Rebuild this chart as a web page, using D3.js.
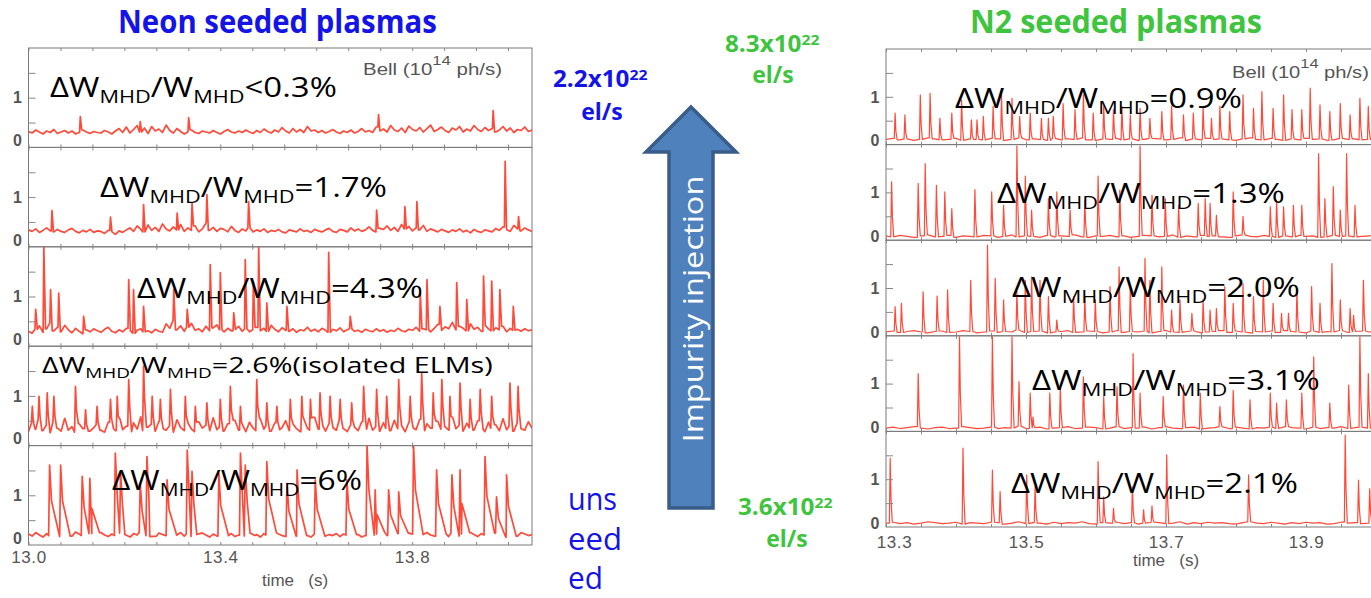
<!DOCTYPE html>
<html>
<head>
<meta charset="utf-8">
<script src="https://cdn.jsdelivr.net/npm/d3@7"></script>
<style>
  body { margin: 0; background: #fff; }
  svg { display: block; }
</style>
</head>
<body>
<svg></svg>
<script>
// ---------- data ----------
const neonRange = [13.0, 14.05], n2Range = [13.3, 14.0]
const neonTicks = [13.0, 13.4, 13.8], n2Ticks = [13.3, 13.5, 13.7, 13.9]
const neonDW = ["<0.3%", "=1.7%", "=4.3%", "=2.6%(isolated ELMs)", "=6%"]
const n2DW = ["=0.9%", "=1.3%", "=2.0%", "=3.1%", "=2.1%"]
const neonRate = ["2.2x10", "22", "el/s"], n2RateHigh = ["8.3x10", "22", "el/s"], n2RateLow = ["3.6x10", "22", "el/s"]
const unseeded = ["uns", "eed", "ed"]

// baseline signal, hundredths of 10^14 ph/s, evenly spaced over the time range
const neonNoise1 = [32,29,35,31,27,33,30,36,28,31,34,29,33,27,30,35,31,28,32,30,29,34,31,27,33,38,30,41,29,36,44,31,39,28,42,33,37,30,45,34,29,38,32,27,31,35,30,28,33,31,29,34,30,27,32,36,31,29,33,30,35,31,28,34,30,37,32,29,35,31,40,33,29,38,31,36,30,42,33,35,30,34,29,32,36,31,28,33,30,35,29,32,38,31,34,30,41,33,37,31,44,35,32,39,30,43,36,33,40,31,38,45,32,36,41,34,30,39,35,42,31,37,33,44,36,32,40,34,38,31,35,42,33,39,30,36,34,41,32,35]
const neonNoise2 = [34,31,36,29,33,38,32,30,35,31,29,34,37,31,28,33,30,35,29,32,31,27,33,30,25,32,29,34,38,31,42,35,30,44,33,39,31,46,36,32,40,34,45,31,38,33,42,30,36,48,33,39,31,37,35,30,41,33,29,36,32,38,30,34,31,36,29,33,31,35,30,28,34,32,30,36,31,33,29,35,32,30,34,37,31,29,35,33,30,38,32,36,31,34,40,33,30,37,35,42,33,39,31,45,36,41,32,38,34,43,31,36,33,30,35,32,29,34,31,36,30,33,28,35,31,29,34,32,30,37,33,40,35,31,43,36,32,38,34,31]
const neonNoise3 = [30,26,34,41,28,35,47,31,38,29,42,33,27,36,30,25,33,29,35,31,28,34,38,30,27,33,29,36,31,26,32,35,29,31,27,34,30,28,45,36,52,33,41,30,38,46,32,35,29,40,31,37,43,33,29,36,31,34,40,30,35,29,33,38,31,36,30,42,34,29,37,32,30,35,28,33,31,38,30,34,29,36,32,28,34,31,37,29,33,35,30,32,28,34,31,29,35,30,33,28,32,30,36,31,29,34,32,38,30,35,33,29,36,44,32,39,35,48,33,40,36,31,45,34,38,30,42,35,31,37,33,40,29,36,32,34,30,35,31,33]
const neonNoise4 = [28,45,33,52,30,41,26,48,35,29,55,31,38,27,44,34,50,29,36,42,31,27,47,35,30,53,32,39,28,46,33,58,30,37,43,29,49,34,31,40,27,52,36,30,45,33,28,48,35,41,30,56,32,37,29,44,34,51,31,38,28,47,35,30,54,33,40,29,46,32,36,50,30,43,34,28,49,35,31,57,33,39,29,45,36,31,52,34,28,42,37,30,48,33,55,31,38,29,46,35,30,51,34,40,28,47,36,32,53,30,44,35,29,49,33,38,31,56,34,41,29,45,36,31,50,33,28,47,35,42,30,54,32,39,29,46,34,31,48,35]
const neonNoise5 = [22,18,25,20,16,23,19,27,21,17,24,20,18,26,22,19,15,23,21,18,25,20,17,22,19,24,18,21,16,23,20,26,19,17,22,18,24,21,19,16,23,20,25,18,22,17,21,19,24,20,16,22,18,25,21,19,23,17,20,22,18,24,19,21,16,23,20,18,25,22,19,17,21,24,18,20,23,19,16,22,20,25,18,21,19,23,17,22,20,18,24,21,16,19,23,20,22,18,25,19,21,17,23,20,18,24,22,19,16,21,25,20,18,23,19,22,17,24,20,18,22,19,25,21,17,23,20,18,22,24,19,21,16,23,20,18,25,22,19,21]

const n2Noise1 = [11,13,10,12,9,11,14,12,10,11,13,9,12,11,10,13,12,9,11,14,10,12,11,9,13,10,12,11,14,10,9,12,11,13,10,12,9,11,13,12,10,11,14,9,12,10,13,11,12,10,9,12,14,11,10,13,11,9,12,10,13,11,12,9,10,13,11,12,10,11,12]
const n2Noise2 = [9,7,10,8,6,9,11,7,8,10,6,9,8,7,10,9,6,8,11,7,9,8,6,10,7,9,8,11,7,6,9,8,10,7,9,6,8,10,9,7,8,11,6,9,7,10,8,9,7,6,9,11,8,7,10,8,6,9,7,10,8,9,6,7,10,8,9,7,8,9,10]
const n2Noise3 = [8,10,7,9,11,8,6,9,10,7,8,11,9,6,8,10,7,9,8,12,7,9,10,6,8,9,11,7,8,10,9,6,8,11,7,9,8,10,6,9,11,8,7,9,10,6,8,9,11,7,10,8,6,9,8,10,7,11,9,8,6,10,7,9,8,11,7,9,10,8,9]
const n2Noise4 = [7,9,6,8,10,7,5,8,9,6,7,10,8,6,7,9,6,8,7,11,6,8,9,5,7,8,10,6,7,9,8,5,7,10,6,8,7,9,5,8,10,7,6,8,9,5,7,8,10,6,9,7,5,8,7,9,6,10,8,7,5,9,6,8,7,10,6,8,9,7,8]
const n2Noise5 = [8,10,7,9,6,8,11,9,7,8,10,6,9,8,7,10,9,6,8,11,7,9,8,6,10,7,9,8,11,7,6,9,8,10,7,9,6,8,10,9,7,8,11,6,9,7,10,8,9,7,6,9,11,8,7,10,8,6,9,7,10,8,9,6,7,10,8,9,7,8,9]

// ELM peaks: [time (s), height (10^14 ph/s)]
const neonPeaks1 = [[13.108,.62],[13.233,.52],[13.334,.6],[13.730,.66],[13.969,.74]]
const neonPeaks2 = [[13.049,.73],[13.171,.6],[13.240,.85],[13.310,.68],[13.341,.88],[13.372,1.05],[13.459,.91],[13.726,.74],[13.785,.81],[13.810,.91],[13.994,1.72],[14.022,.61]]
const neonPeaks3 = [[13.015,.74],[13.032,2.0],[13.046,1.14],[13.063,1.07],[13.115,.6],[13.209,1.34],[13.219,1.14],[13.240,.8],[13.303,1.14],[13.331,.74],[13.379,1.64],[13.400,1.48],[13.428,.67],[13.452,1.74],[13.469,1.28],[13.480,2.0],[13.497,.87],[13.539,.8],[13.626,1.89],[13.671,.6],[13.817,1.07],[13.831,1.34],[13.858,.8],[13.893,1.28],[13.914,.94],[13.949,1.41],[13.966,1.31],[13.983,1.14],[14.011,.8]]
const neonPeaks4 = [[13.008,.79],[13.022,.99],[13.039,1.06],[13.053,.99],[13.098,1.19],[13.119,.72],[13.143,.79],[13.171,.93],[13.185,.99],[13.209,1.33],[13.240,1.6],[13.258,.99],[13.275,.93],[13.296,1.13],[13.327,.99],[13.348,.79],[13.372,.86],[13.400,.93],[13.421,1.19],[13.442,.79],[13.476,1.33],[13.497,.86],[13.518,.79],[13.546,.93],[13.570,.99],[13.588,.93],[13.608,1.06],[13.629,.99],[13.650,.93],[13.674,.86],[13.699,1.19],[13.726,1.13],[13.747,.99],[13.772,1.33],[13.796,.99],[13.820,1.46],[13.844,1.06],[13.862,1.33],[13.879,.99],[13.900,1.26],[13.921,.93],[13.942,1.13],[13.966,.99],[14.004,1.26],[14.021,1.19]]
const neonPeaks5 = [[13.044,1.61],[13.067,1.61],[13.112,1.38],[13.128,1.34],[13.181,1.85],[13.192,1.48],[13.233,1.24],[13.247,1.78],[13.289,1.31],[13.331,1.91],[13.341,1.48],[13.397,1.44],[13.442,1.85],[13.452,1.61],[13.497,1.68],[13.539,1.24],[13.560,1.51],[13.598,1.31],[13.664,1.31],[13.706,2.0],[13.723,1.11],[13.751,1.11],[13.772,1.07],[13.803,2.0],[13.851,1.51],[13.883,1.41],[13.900,1.51],[13.952,1.78],[13.976,.97],[13.997,1.41]]

const n2Peaks1 = [[13.313,.66],[13.327,.62],[13.349,1.04],[13.363,1.07],[13.377,.55],[13.394,.66],[13.408,.93],[13.422,.52],[13.430,.52],[13.439,.59],[13.453,.8],[13.465,1.04],[13.480,.97],[13.491,.59],[13.506,.66],[13.522,.55],[13.532,.55],[13.539,.59],[13.553,.86],[13.570,.73],[13.582,1.04],[13.596,.66],[13.611,.8],[13.625,.73],[13.637,.8],[13.649,.62],[13.663,.76],[13.677,.55],[13.694,.69],[13.708,.8],[13.725,.62],[13.739,.66],[13.753,.8],[13.765,.55],[13.777,.8],[13.791,.69],[13.810,1.04],[13.825,.76],[13.837,1.11],[13.853,.76],[13.868,1.04],[13.880,.73],[13.894,.73],[13.906,1.18],[13.920,.83],[13.934,.69],[13.949,.86],[13.963,.62],[13.977,.97],[13.989,.8]]
const n2Peaks2 = [[13.308,1.22],[13.346,1.19],[13.356,1.6],[13.372,1.15],[13.384,1.01],[13.394,.66],[13.427,1.06],[13.451,1.01],[13.468,.73],[13.487,1.97],[13.499,1.34],[13.508,.63],[13.532,.87],[13.544,1.01],[13.563,.63],[13.584,.84],[13.603,1.34],[13.634,1.05],[13.663,1.97],[13.680,.94],[13.699,.87],[13.718,.73],[13.746,.77],[13.756,.87],[13.763,.77],[13.772,.52],[13.796,1.01],[13.810,.5],[13.849,.7],[13.858,.84],[13.868,.7],[13.882,.73],[13.894,.73],[13.918,1.81],[13.927,.87],[13.939,1.12],[13.949,.63],[13.958,1.81],[13.970,.73]]
const n2Peaks3 = [[13.313,.61],[13.322,.68],[13.353,.92],[13.373,.83],[13.388,.96],[13.421,1.16],[13.445,1.9],[13.456,1.2],[13.468,.75],[13.487,.92],[13.499,1.16],[13.508,1.23],[13.520,1.16],[13.532,.82],[13.544,.33],[13.568,.82],[13.584,.82],[13.599,.75],[13.620,1.03],[13.633,1.44],[13.649,1.03],[13.670,1.62],[13.677,1.16],[13.694,1.44],[13.708,.54],[13.720,.75],[13.737,.47],[13.753,.75],[13.763,.54],[13.772,.57],[13.784,1.03],[13.796,.68],[13.810,1.09],[13.825,.82],[13.839,1.16],[13.853,.68],[13.865,.47],[13.875,.47],[13.887,.96],[13.908,1.03],[13.920,.68],[13.937,1.51],[13.949,.75],[13.963,.57],[13.968,.43],[13.982,1.16]]
const n2Peaks4 = [[13.346,1.21],[13.405,1.98],[13.452,1.98],[13.480,1.98],[13.490,1.04],[13.506,.8],[13.510,.3],[13.534,.8],[13.549,.93],[13.582,1.14],[13.611,.73],[13.630,.93],[13.653,1.63],[13.663,.8],[13.696,.73],[13.725,.97],[13.749,.8],[13.777,.52],[13.796,.86],[13.820,.66],[13.849,.8],[13.858,.59],[13.872,.66],[13.894,.8],[13.911,1.56],[13.934,.59],[13.961,.97],[13.977,1.98],[13.989,1.21]]
const n2Peaks5 = [[13.306,1.44],[13.410,1.65],[13.452,1.19],[13.463,.74],[13.501,1.09],[13.513,.84],[13.603,1.37],[13.611,.63],[13.625,.39],[13.652,.84],[13.668,.36],[13.680,.44],[13.701,1.51],[13.818,1.09],[13.956,1.92],[13.975,.98],[13.991,.8]]

const neonNoise = [neonNoise1, neonNoise2, neonNoise3, neonNoise4, neonNoise5]
const neonPeaks = [neonPeaks1, neonPeaks2, neonPeaks3, neonPeaks4, neonPeaks5]
const n2Noise = [n2Noise1, n2Noise2, n2Noise3, n2Noise4, n2Noise5]
const n2Peaks = [n2Peaks1, n2Peaks2, n2Peaks3, n2Peaks4, n2Peaks5]

// ---------- layout / style ----------
const svg = d3.select("svg").attr("width", 1371).attr("height", 598)
const blue = "#1414e6", green = "#3ec43e", red = "#ff2a18", grey = "#555"
const sans = "'Open Sans', sans-serif", helv = "'Liberation Sans', Arial, sans-serif"

const neonSide = {name: "ne", top: 48, h: 99.4, range: [28.5, 532], minor: 0.2 / 3, lw: 1.7}
const n2Side = {name: "n2", top: 49, h: 95.6, range: [886, 1376], minor: 0.05, lw: 1.2}
const neonShape = [{rise: .0015, fall: .003}, {rise: .0015, fall: .003}, {rise: .0015, fall: .0035},
                   {rise: .002, knee: .002, drop: .6, fall: .006}, {rise: .002, knee: .004, drop: .55, fall: .02}]
const n2Shape = {rise: .0012, knee: .0012, drop: .4, fall: .003}
const neonLabelPos = [[50, 97, 287, 28], [100, 197, 287, 28], [137, 298, 286, 28], [42, 373, 451, 21], [112, 490, 250, 28]]
const n2LabelPos = [[955, 108, 287, 28], [997, 203, 288, 28], [1012, 297, 288, 28], [1032, 390, 288, 28], [1011, 493, 287, 28]]

// squeeze a text horizontally so it spans w pixels, around x = ox
function fit(t, w, ox) {
  const b = t.node().getBBox()
  t.attr("transform", `translate(${ox},0) scale(${w / b.width},1) translate(${-ox},0)`)
  return t
}

function tracePoints(noise, peaks, dom, sh) {
  const step = (dom[1] - dom[0]) / (noise.length - 1)
  const baseAt = t => noise[Math.max(0, Math.min(noise.length - 1, Math.round((t - dom[0]) / step)))] / 100
  const spans = peaks.map(([t]) => [t - sh.rise, t + sh.fall])
  const pts = noise.map((v, i) => [dom[0] + i * step, v / 100])
    .filter(([t]) => !spans.some(([a, b]) => t > a && t < b))
  peaks.forEach(([t, h]) => {
    pts.push([t - sh.rise, baseAt(t - sh.rise)], [t, h], [t + sh.fall, baseAt(t + sh.fall)])
    if (sh.knee) pts.push([t + sh.knee, h * sh.drop])
  })
  return pts.sort((p, q) => p[0] - q[0])
}

function dwLabel(x, y, w, size, suffix) {
  const t = svg.append("text").attr("x", x).attr("y", y)
    .style("font-family", sans).style("font-size", size + "px").style("fill", "#000")
  const sub = size * 0.66, sh = size * 0.22
  t.append("tspan").text("ΔW")
  t.append("tspan").text("MHD").attr("dy", sh).style("font-size", sub + "px")
  t.append("tspan").text("/W").attr("dy", -sh)
  t.append("tspan").text("MHD").attr("dy", sh).style("font-size", sub + "px")
  t.append("tspan").text(suffix).attr("dy", -sh)
  fit(t, w, x)
}

function drawStack(side, dom, noises, peaks, shapes, labels, labelPos, ticks) {
  const x = d3.scaleLinear().domain(dom).range(side.range)
  const minor = d3.range(dom[0], dom[1] + 1e-9, side.minor)
  const [x0, x1] = side.range
  noises.forEach((noise, i) => {
    const top = side.top + i * side.h, bot = top + side.h
    const y = d3.scaleLinear().domain([0, 2]).range([bot, top])
    const id = `clip-${side.name}-${i}`
    svg.append("clipPath").attr("id", id).append("rect")
      .attr("x", x0).attr("y", top).attr("width", x1 - x0).attr("height", side.h)
    const line = d3.line().x(d => x(d[0])).y(d => y(d[1]))
    const shape = Array.isArray(shapes) ? shapes[i] : shapes
    svg.append("path").datum(tracePoints(noise, peaks[i], dom, shape))
      .attr("clip-path", `url(#${id})`).attr("d", line)
      .style("fill", "none").style("stroke", red).style("stroke-width", side.lw)
      .style("stroke-linejoin", "round").style("opacity", 0.85)

    svg.append("rect").attr("x", x0).attr("y", top).attr("width", x1 - x0).attr("height", side.h)
      .style("fill", "none").style("stroke", "#7a7a7a").style("stroke-width", 1)

    const yAxis = svg.append("g").attr("transform", `translate(${x0},0)`)
      .call(d3.axisLeft(y).tickValues([0.5, 1, 1.5]).tickSize(-7).tickFormat(""))
    const xTop = svg.append("g").attr("transform", `translate(0,${top})`)
      .call(d3.axisTop(x).tickValues(minor).tickSize(-3).tickFormat(""))
    const xBot = svg.append("g").attr("transform", `translate(0,${bot})`)
      .call(d3.axisBottom(x).tickValues(minor).tickSize(-3).tickFormat(""))
    ;[yAxis, xTop, xBot].forEach(a => { a.select(".domain").remove(); a.selectAll("line").style("stroke", "#888") })

    svg.append("text").text("1").attr("x", x0 - 11).attr("y", y(1)).attr("dy", "0.36em")
      .style("text-anchor", "middle").style("font-family", helv).style("font-weight", 700)
      .style("font-size", "16px").style("fill", grey)
    svg.append("text").text("0").attr("x", x0 - 11).attr("y", y(0) - (side.name === "ne" ? 7 : 4)).attr("dy", "0.36em")
      .style("text-anchor", "middle").style("font-family", helv).style("font-weight", 700)
      .style("font-size", "16px").style("fill", grey)

    const [lx, ly, lw, ls] = labelPos[i]
    dwLabel(lx, ly, lw, ls, labels[i])
  })

  const bottom = side.top + noises.length * side.h
  const ax = svg.append("g").attr("transform", `translate(0,${bottom})`)
    .call(d3.axisBottom(x).tickValues(ticks).tickFormat(d3.format(".1f")).tickSize(0))
  ax.select(".domain").remove()
  ax.selectAll("text").attr("y", side.name === "ne" ? 18 : 21).attr("dy", 0)
    .style("font-family", helv).style("font-size", "17px").style("letter-spacing", "0.6px").style("fill", grey)
    .filter(d => d === dom[0] && side.name === "n2").attr("dx", 8)
  return x
}

drawStack(neonSide, neonRange, neonNoise, neonPeaks, neonShape, neonDW, neonLabelPos, neonTicks)
drawStack(n2Side, n2Range, n2Noise, n2Peaks, n2Shape, n2DW, n2LabelPos, n2Ticks)

// axis titles
;[[295, 586], [1166, 566]].forEach(([cx, by]) => {
  svg.append("text").text("time   (s)").attr("x", cx).attr("y", by).attr("xml:space", "preserve")
    .style("white-space", "pre").style("text-anchor", "middle").style("font-family", helv)
    .style("font-size", "17px").style("fill", grey)
})

// "Bell (10^14 ph/s)" signal names
;[[363, 75, 139], [1232, 78, 137]].forEach(([bx, by, bw]) => {
  const t = svg.append("text").attr("x", bx).attr("y", by)
    .style("font-family", helv).style("font-size", "16px").style("fill", grey)
  t.append("tspan").text("Bell (10")
  t.append("tspan").text("14").attr("dy", -10).style("font-size", "13px")
  t.append("tspan").text(" ph/s)").attr("dy", 10)
  fit(t, bw, bx)
})

// panel titles
fit(svg.append("text").text("Neon seeded plasmas").attr("x", 118).attr("y", 33)
  .style("font-family", sans).style("font-weight", 700).style("font-size", "32px").style("fill", blue), 319, 118)
fit(svg.append("text").text("N2 seeded plasmas").attr("x", 970).attr("y", 33)
  .style("font-family", sans).style("font-weight", 700).style("font-size", "32px").style("fill", green), 292, 970)

// injection rates
function rate(vals, x, y, w, elx, ely, color) {
  const t = svg.append("text").attr("x", x).attr("y", y)
    .style("font-family", sans).style("font-weight", 700).style("font-size", "23px").style("fill", color)
  t.append("tspan").text(vals[0])
  t.append("tspan").text(vals[1]).attr("dy", -7).style("font-size", "15px")
  fit(t, w, x)
  svg.append("text").text(vals[2]).attr("x", elx).attr("y", ely).style("text-anchor", "middle")
    .style("font-family", sans).style("font-weight", 700).style("font-size", "23px").style("fill", color)
}
rate(neonRate, 553, 87, 95, 602, 120, blue)
rate(n2RateHigh, 725, 52, 95, 773, 83, green)
rate(n2RateLow, 738, 515, 95, 787, 547, green)

// "unseeded" broken over three lines
;[[510, 49], [550, 54], [589, 35]].forEach(([by, w], i) => {
  fit(svg.append("text").text(unseeded[i]).attr("x", 568).attr("y", by)
    .style("font-family", sans).style("font-size", "31px").style("fill", blue), w, 568)
})

// impurity injection arrow
const arrow = [[669, 508], [669, 152], [646, 152], [691, 107], [736, 152], [713, 152], [713, 508]]
svg.append("path").attr("d", d3.line()(arrow) + "Z")
  .style("fill", "#4f81bd").style("stroke", "#385d8a").style("stroke-width", 3.5).style("stroke-linejoin", "miter")
const ag = svg.append("g").attr("transform", "translate(693,309) rotate(-90)")
const at = ag.append("text").text("Impurity injection").attr("x", 0).attr("y", 0).attr("dy", "0.35em")
  .style("text-anchor", "middle").style("font-family", sans).style("font-size", "28px").style("fill", "#fff")
fit(at, 267, 0)
</script>
</body>
</html>
